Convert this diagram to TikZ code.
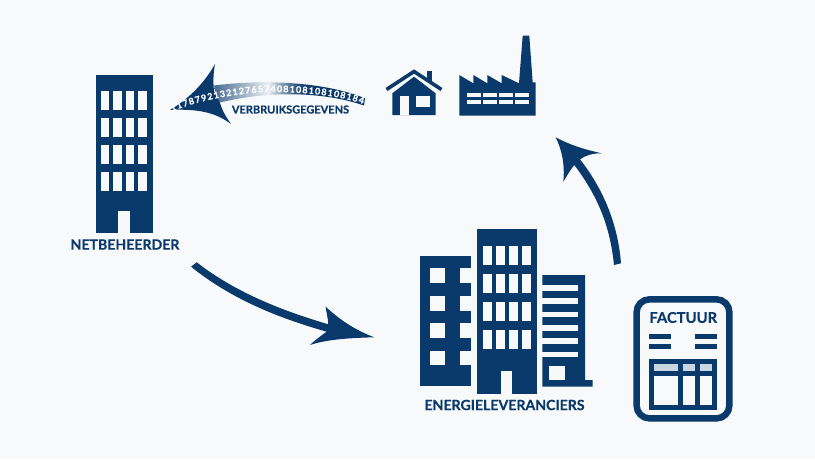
\documentclass[tikz,border=0pt]{standalone}
\usepackage{fontspec}
\setmainfont{Lato}[BoldFeatures={FakeBold=0.5}]
\usetikzlibrary{decorations.text}
\definecolor{navy1}{RGB}{10, 57, 107}
\definecolor{lightbg}{RGB}{248, 249, 250}
\definecolor{headgray}{RGB}{203, 214, 227}
\pgfdeclarehorizontalshading{ribbonfade}{100bp}{
  color(0bp)=(navy1!75); color(25bp)=(navy1!75); color(33bp)=(navy1!45);
  color(43bp)=(navy1!8); color(48bp)=(navy1!55); color(53bp)=(navy1!90);
  color(58bp)=(navy1); color(100bp)=(navy1)}
\tikzset{
  solid/.style={fill=navy1, draw=none},
  hole/.style={fill=lightbg, draw=none},
  caption/.style={font=\fontsize{14.1}{16}\selectfont\bfseries, text=navy1, inner sep=0pt}
}

\begin{document}
\begin{tikzpicture}[x=1pt, y=-1pt]
  \useasboundingbox (0, 0) rectangle (815, 459);
  \fill[lightbg] (0, 0) rectangle (815, 459);

  % Netbeheerder tower
  \fill[solid] (96, 75) rectangle (153, 233);
  \foreach \wx in {100.7, 113.3, 125.7, 138.3}
    \foreach \wy in {91, 117.7, 144.5, 171.7}
      \fill[hole] (\wx, \wy) rectangle ++(8.6, 19);
  \fill[hole] (118.3, 211) rectangle (129.7, 233);
  \node[caption] (netlabel) at (125, 244.5) {NETBEHEERDER};

  % Energieleveranciers, left block
  \fill[solid] (420, 256) rectangle (471.3, 385.7);
  \foreach \wy in {268, 296, 323.3, 350.7} {
    \fill[hole] (430, \wy) rectangle ++(15.3, 14.7);
    \fill[hole] (460, \wy) rectangle ++(11.5, 14.7);
  }
  % Energieleveranciers, middle block
  \fill[solid] (477, 229.3) rectangle (536.7, 393.7);
  \foreach \wx in {483, 496.2, 508.7, 522}
    \foreach \wy in {245.7, 273.7, 301.7, 329.7}
      \fill[hole] (\wx, \wy) rectangle ++(9, 19.6);
  \fill[hole] (501, 370.7) rectangle (512.3, 393.7);
  % Energieleveranciers, right block
  \fill[solid] (542.3, 275) -- (585, 275) -- (585, 380) -- (592.7, 380) -- (592.7, 386.7) -- (542.3, 386.7) -- cycle;
  \foreach \wy in {285, 298.3, 311.7, 325, 338.3, 351.7}
    \fill[hole] (542.3, \wy) rectangle (577.7, \wy + 5.7);
  \fill[hole] (548.7, 366) rectangle (565.3, 380);
  \node[caption] (energielabel) at (504.5, 405) {ENERGIELEVERANCIERS};

  % House
  \draw[navy1, line width=3.6pt] (386.5, 89.5) -- (414, 71.5) -- (441.5, 89.5);
  \fill[solid] (426.7, 70.7) rectangle (432.3, 82);
  \fill[solid] (414, 76.7) -- (435.7, 93.3) -- (435.7, 115) -- (392.3, 115) -- (392.3, 93.3) -- cycle;
  \fill[hole] (400, 96) rectangle (409.3, 115);
  \fill[hole] (416, 96) rectangle (429.7, 107.3);

  % Factory
  \fill[solid] (459.3, 75) -- (473.3, 83.3) -- (473.3, 75) -- (487.3, 83.3) -- (487.3, 75)
    -- (501.7, 83.3) -- (501.7, 75) -- (519, 83.3) -- (522.7, 35.7) -- (529.3, 35.7)
    -- (532.7, 82.3) -- (535.7, 82.3) -- (535.7, 115.7) -- (459.3, 115.7) -- cycle;
  \foreach \wx in {466.7, 482.9, 499.1, 515.3}
    \foreach \wy in {93.3, 100}
      \fill[hole] (\wx, \wy) rectangle ++(14, 4);

  % Factuur
  \draw[navy1, line width=6.5pt, rounded corners=13pt, fill=lightbg] (636.6, 299.3) rectangle (729.4, 418.4);
  \node[caption, font=\fontsize{14.8}{16}\selectfont\bfseries] (factuurlabel) at (683.3, 317.5) {FACTUUR};
  \foreach \wy in {334.3, 344} {
    \fill[solid] (649.3, \wy) rectangle (670.7, \wy + 5);
    \fill[solid] (695.3, \wy) rectangle (717, \wy + 5);
  }
  \fill[solid] (649.3, 359) rectangle (717, 410);
  \foreach \wx/\wr in {654/678.3, 683.3/695.3, 700/712.3} {
    \fill[headgray] (\wx, 364) rectangle (\wr, 371);
    \fill[hole] (\wx, 376) rectangle (\wr, 405);
  }

  % Arrow to energieleveranciers
  \coordinate (tipenergie) at (374.3, 337.3);
  \fill[solid] (191, 266.7) -- (196.7, 262.3) .. controls (235, 292) and (280, 310) .. (328.3, 324.3)
    .. controls (328, 317) and (326, 312) .. (325.7, 306.7)
    .. controls (340, 320) and (355, 330) .. (tipenergie)
    .. controls (345, 338) and (325, 340) .. (310, 345)
    .. controls (315, 340) and (322, 335) .. (326.7, 331.7)
    .. controls (275, 317) and (230, 298) .. cycle;

  % Arrow to house and factory
  \coordinate (tiphomes) at (555.7, 137.3);
  \fill[solid] (621, 263.3) -- (614, 265) .. controls (610, 225) and (597, 195) .. (574.3, 165)
    .. controls (570, 170) and (567, 176) .. (563.3, 181.7)
    .. controls (565, 165) and (562, 150) .. (tiphomes)
    .. controls (572, 146) and (587, 150) .. (601.7, 153.3)
    .. controls (594, 153) and (586, 155) .. (580, 159.3)
    .. controls (604, 190) and (618, 225) .. cycle;

  % Data arrow to netbeheerder
  \coordinate (tipnet) at (170, 110);
  \shade[shading=ribbonfade] (214, 85.5) .. controls (265, 79) and (325, 82) .. (365, 98.3)
    -- (364, 105.5) .. controls (325, 92) and (270, 90) .. (218, 103) -- cycle;
  \fill[solid] (tipnet) .. controls (190, 98) and (205, 82) .. (215, 64)
    .. controls (213, 75) and (213, 85) .. (214.3, 91.7)
    -- (220, 103) .. controls (222, 110) and (226, 117) .. (231, 124)
    .. controls (220, 116) and (205, 108) .. cycle;
  \path[decorate, decoration={text along path, text align={fit to path},
    text={|\fontsize{9}{9}\selectfont\bfseries\color{white}|1178792132127657408108108108184}}]
    (172, 111.5) .. controls (200, 99.5) and (245, 91.5) .. (276, 92) .. controls (310, 92.5) and (340, 96) .. (363, 104);
  \node[caption, font=\fontsize{11}{12}\selectfont\bfseries] (datalabel) at (290.5, 109.5) {VERBRUIKSGEGEVENS};
\end{tikzpicture}
\end{document}
